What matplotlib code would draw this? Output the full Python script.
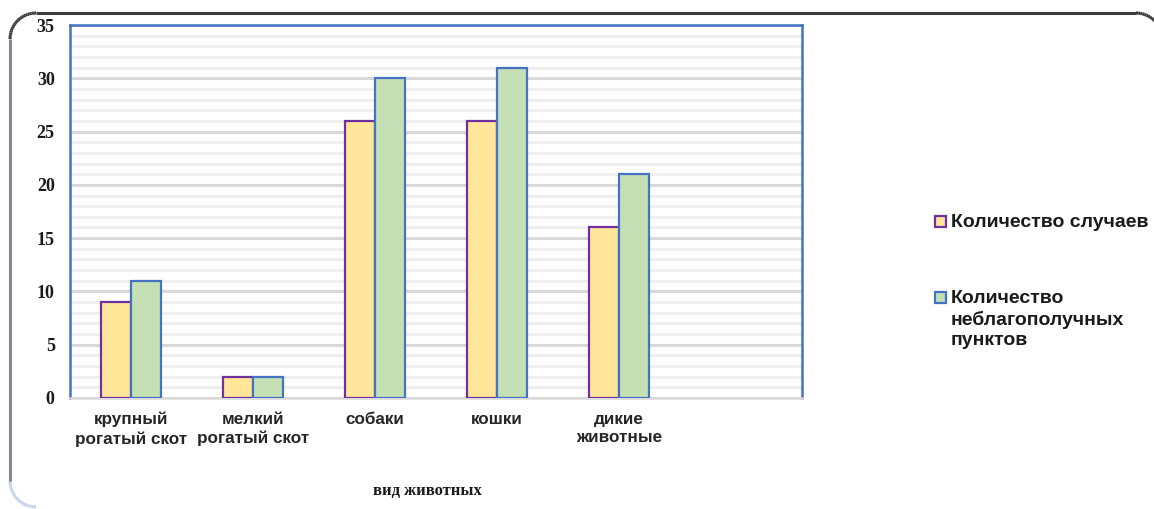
import numpy as np
import matplotlib.pyplot as plt
from matplotlib.collections import LineCollection
from matplotlib.patches import Rectangle
from matplotlib.colors import to_rgb

# categories (the last slot is left empty on the axis)
categories = ['крупный\nрогатый скот', 'мелкий\nрогатый скот', 'собаки', 'кошки', 'дикие\nживотные', '']
cases = [9, 2, 26, 26, 16]
points = [11, 2, 30, 31, 21]
series_names = ['Количество случаев', 'Количество\nнеблагополучных\nпунктов']

fill_cols = ['#ffe699', '#c5e0b4']
edge_cols = ['#7030a0', '#4472c4']

W, H = 1154, 509
fig = plt.figure(figsize=(W / 100, H / 100), dpi=100)
ax = fig.add_axes([70 / W, 1 - 398 / H, 732 / W, 373 / H])

x = np.arange(len(cases))
w = 0.245
ax.bar(x - w / 2, cases, w, color=fill_cols[0], edgecolor=edge_cols[0], linewidth=1.6, zorder=3)
ax.bar(x + w / 2, points, w, color=fill_cols[1], edgecolor=edge_cols[1], linewidth=1.6, zorder=3)

ax.set_xlim(-0.5, len(categories) - 0.5)
ax.set_ylim(0, 35)
ax.set_xticks(np.arange(len(categories)))
ax.set_xticklabels(categories, fontfamily='Liberation Sans', fontweight='bold',
                   fontsize=12.3, color='#262626', linespacing=1.3)
ax.set_yticks(np.arange(0, 36, 5))
ax.set_yticklabels([str(v) for v in range(0, 36, 5)], fontfamily='Liberation Serif',
                   fontweight='bold', fontsize=13, color='#1a1a1a')
ax.set_yticks(np.arange(0, 36, 1), minor=True)
ax.tick_params(axis='both', which='both', length=0)
ax.tick_params(axis='y', pad=11)
ax.tick_params(axis='x', pad=10)

# gridlines: light every unit, darker every 5
ax.grid(axis='y', which='minor', color='#efefef', linewidth=2.2, zorder=0)
ax.grid(axis='y', which='major', color='#d9d9d9', linewidth=2.2, zorder=1)

for s in ['left', 'top', 'right']:
    ax.spines[s].set_color('#4472c4')
    ax.spines[s].set_linewidth(1.8)
ax.spines['bottom'].set_color('#d9d9d9')
ax.spines['bottom'].set_linewidth(1.8)

fig.text(427 / W, 1 - 491 / H, 'вид животных', fontfamily='Liberation Serif',
         fontweight='bold', fontsize=12, ha='center', va='center', color='#1a1a1a')

# legend drawn by hand so the marker sits on the first text line
leg_y = [222, 298]
for i, name in enumerate(series_names):
    fig.add_artist(Rectangle((935 / W, 1 - (leg_y[i] + 5) / H), 11 / W, 11 / H,
                             facecolor=fill_cols[i], edgecolor=edge_cols[i],
                             linewidth=1.6, transform=fig.transFigure))
    fig.text(951 / W, 1 - (leg_y[i] - 8) / H, name, fontfamily='Liberation Sans',
             fontweight='bold', fontsize=14, ha='left', va='top', color='#1a1a1a',
             linespacing=1.25)

# rounded outer frame, dark on top fading to pale blue down the left side
x0, y0, x1, y1, r = 10, 13, 1162, 507, 26
left_bot = [(x0 + r + r * np.cos(a), y1 - r - r * np.sin(a))
            for a in np.linspace(1.5 * np.pi, np.pi, 20)]
left_top = [(x0 + r + r * np.cos(a), y0 + r - r * np.sin(a))
            for a in np.linspace(np.pi, np.pi / 2, 20)]
right_top = [(x1 - r + r * np.cos(a), y0 + r - r * np.sin(a))
             for a in np.linspace(np.pi / 2, 0, 20)]
path = np.array(left_bot + left_top + right_top)
segs = np.stack([path[:-1], path[1:]], axis=1)
dark = np.array(to_rgb('#3a3a3a'))
light = np.array(to_rgb('#c8d4ec'))
cols = []
for s in segs:
    ym = s[:, 1].mean()
    t = np.clip((ym - 60) / 400, 0, 1)
    cols.append(dark * (1 - t) + light * t)
segs_fig = segs.copy()
segs_fig[:, :, 0] = segs[:, :, 0] / W
segs_fig[:, :, 1] = 1 - segs[:, :, 1] / H
lc = LineCollection(segs_fig, colors=cols, linewidths=2.2, transform=fig.transFigure)
fig.add_artist(lc)

fig.savefig('out.png', dpi=100)
